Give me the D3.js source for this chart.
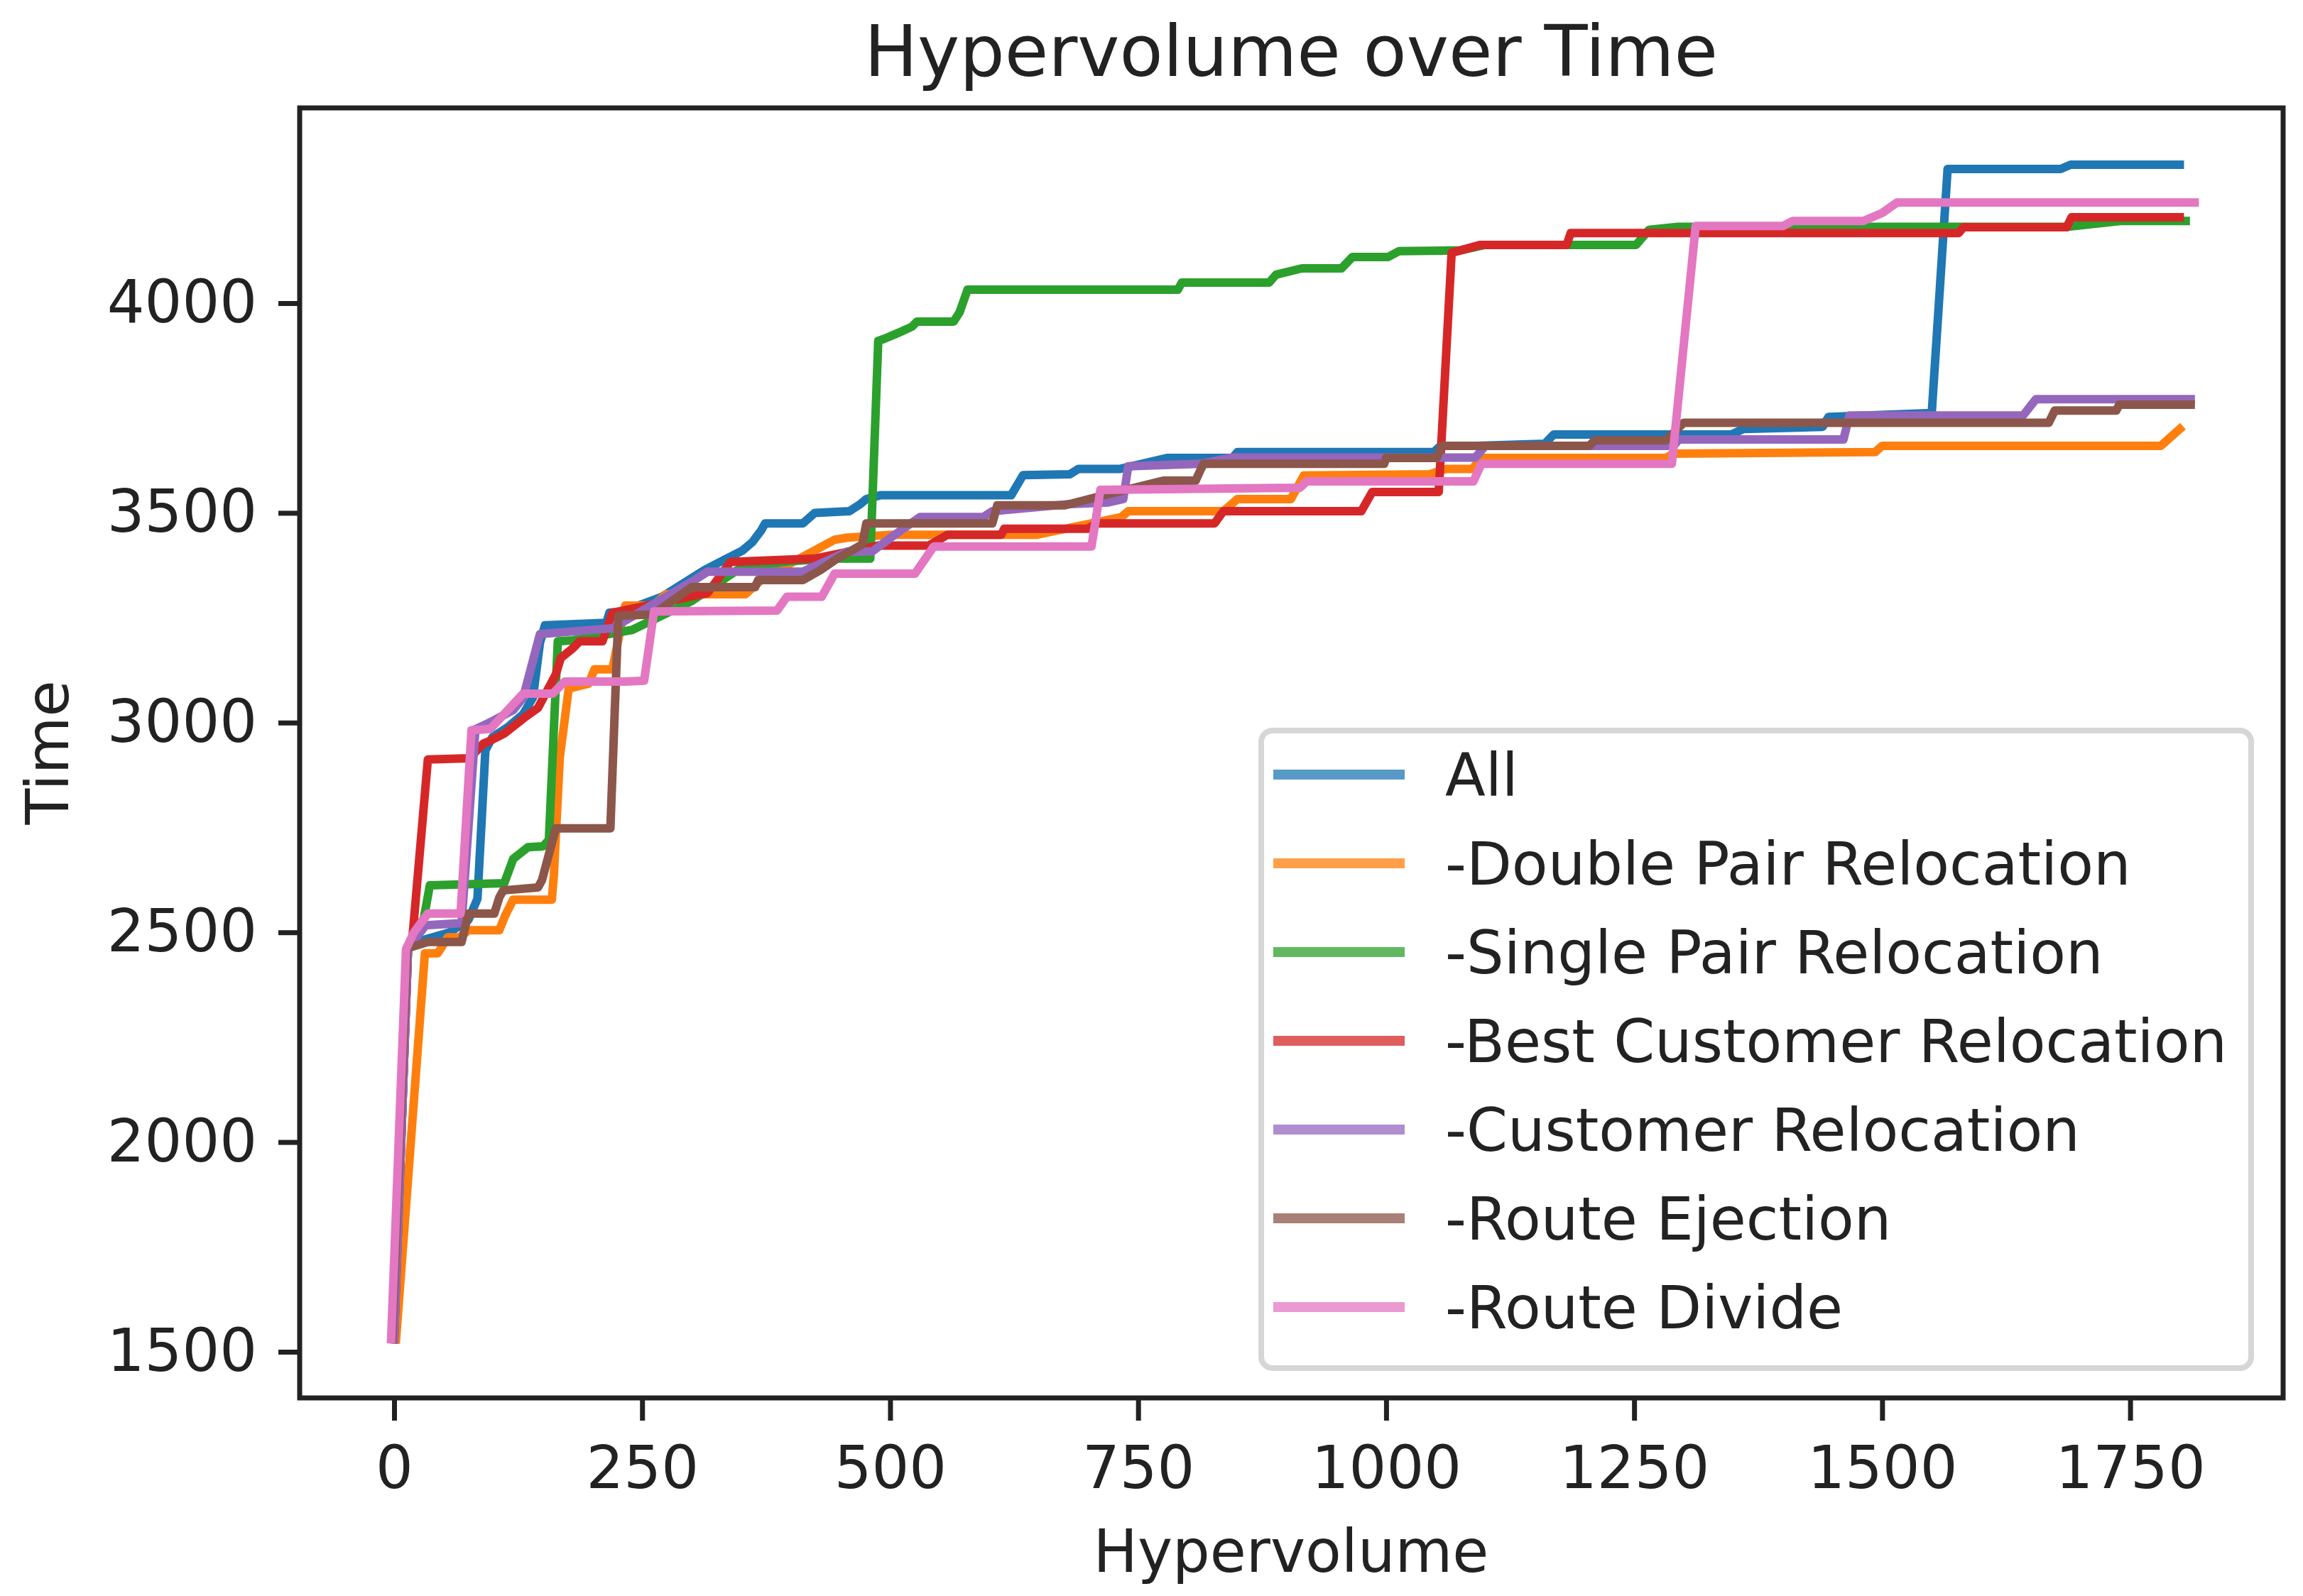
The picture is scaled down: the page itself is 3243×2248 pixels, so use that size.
<!DOCTYPE html>
<html>
<head>
<meta charset="utf-8">
<script src="https://cdn.jsdelivr.net/npm/d3@7"></script>
<style>
  body { margin: 0; background: #fff; }
  text { font-family: "DejaVu Sans", sans-serif; fill: #222; }
</style>
</head>
<body>
<svg></svg>
<script>
// series names, in plot order
const names = ["All", "-Double Pair Relocation", "-Single Pair Relocation", "-Best Customer Relocation",
               "-Customer Relocation", "-Route Ejection", "-Route Divide"];
const colors = ["#1f77b4", "#ff7f0e", "#2ca02c", "#d62728", "#9467bd", "#8c564b", "#e377c2"];

const xTicks = [0, 250, 500, 750, 1000, 1250, 1500, 1750];
const yTicks = [1500, 2000, 2500, 3000, 3500, 4000];

// [hypervolume, time]
const all = [[0,1530],[14,2462],[30,2482],[56,2500],[75,2530],[84,2580],[92,2934],[99,2965],[115,2990],[130,3020],
  [140,3060],[147,3190],[152,3232],[214,3238],[217,3262],[230,3265],[270,3300],[313,3364],[351,3410],[361,3430],
  [370,3458],[374,3475],[412,3475],[424,3500],[459,3504],[470,3521],[476,3533],[490,3542],[622,3542],[634,3590],
  [681,3592],[690,3605],[732,3605],[779,3631],[845,3631],[850,3645],[1048,3645],[1055,3660],[1091,3660],[1160,3665],
  [1169,3687],[1348,3687],[1360,3700],[1440,3705],[1446,3729],[1550,3738],[1566,4320],[1680,4320],[1690,4330],[1800,4330]];

const doublePair = [[2,1530],[31,2450],[44,2450],[54,2488],[66,2488],[75,2505],[106,2505],[112,2540],[120,2578],[159,2578],
  [161,2636],[167,2917],[176,3081],[196,3093],[202,3127],[220,3127],[233,3279],[261,3279],[274,3306],[354,3306],
  [370,3340],[400,3380],[444,3436],[457,3441],[502,3448],[648,3448],[733,3490],[740,3504],[836,3504],[850,3533],
  [904,3533],[917,3589],[1044,3592],[1061,3605],[1087,3605],[1096,3631],[1282,3631],[1289,3641],[1493,3645],
  [1500,3660],[1781,3660],[1800,3700]];

const singlePair = [[0,1530],[14,2462],[20,2490],[30,2534],[36,2612],[111,2617],[120,2675],[135,2703],[150,2705],[156,2720],
  [165,3194],[180,3196],[240,3221],[300,3290],[350,3370],[400,3385],[447,3391],[480,3391],[488,3910],[494,3915],
  [509,3930],[522,3944],[527,3956],[564,3956],[570,3978],[578,4032],[790,4032],[794,4049],[882,4049],[889,4068],
  [915,4083],[955,4083],[966,4110],[1002,4110],[1013,4124],[1075,4126],[1100,4139],[1252,4139],[1265,4175],
  [1294,4182],[1686,4182],[1740,4196],[1806,4196]];

const bestCustomer = [[0,1530],[14,2462],[18,2475],[34,2912],[76,2915],[90,2950],[97,2957],[111,2974],[132,3013],[145,3035],
  [163,3115],[168,3154],[180,3177],[187,3194],[210,3194],[220,3262],[316,3309],[339,3383],[424,3391],[488,3422],
  [539,3422],[558,3448],[612,3448],[615,3462],[699,3462],[708,3475],[827,3475],[836,3504],[975,3504],[986,3550],
  [1053,3550],[1066,4120],[1095,4139],[1182,4139],[1186,4167],[1577,4167],[1582,4181],[1686,4181],[1691,4205],[1800,4205]];

const customer = [[0,1530],[14,2462],[32,2517],[68,2522],[82,2984],[97,3001],[120,3030],[130,3059],[147,3211],[220,3225],
  [303,3340],[316,3360],[412,3360],[457,3408],[482,3408],[500,3440],[530,3490],[594,3490],[603,3504],[681,3521],
  [720,3525],[735,3533],[740,3611],[813,3617],[845,3632],[1090,3632],[1100,3660],[1290,3660],[1295,3675],[1461,3675],
  [1467,3732],[1642,3732],[1655,3771],[1811,3771]];

const routeEjection = [[-2,1530],[13,2462],[34,2477],[68,2477],[75,2545],[101,2545],[106,2583],[110,2600],[145,2607],[149,2624],
  [163,2748],[218,2748],[226,3255],[261,3258],[300,3323],[364,3323],[367,3340],[412,3340],[430,3364],[446,3390],
  [472,3425],[476,3475],[603,3475],[608,3518],[676,3518],[712,3540],[776,3577],[808,3577],[813,3603],[816,3617],
  [998,3617],[1000,3631],[1051,3631],[1056,3660],[1205,3660],[1210,3673],[1282,3673],[1300,3715],[1668,3715],
  [1674,3744],[1736,3744],[1739,3758],[1811,3758]];

const routeDivide = [[-3,1530],[12,2460],[20,2500],[34,2545],[67,2545],[78,2982],[97,2985],[130,3069],[160,3069],[172,3098],
  [233,3098],[252,3100],[262,3265],[386,3267],[396,3300],[431,3300],[444,3355],[525,3355],[544,3420],[703,3420],
  [712,3555],[913,3560],[920,3575],[1088,3575],[1096,3617],[1288,3617],[1312,4184],[1400,4184],[1410,4196],
  [1481,4196],[1500,4215],[1515,4240],[1815,4240]];

const series = [all, doublePair, singlePair, bestCustomer, customer, routeEjection, routeDivide];

const svg = d3.select("svg").attr("width", 3243).attr("height", 2248);

const x = d3.scaleLinear().domain([-95.2, 1904.2]).range([422, 3215]);
const y = d3.scaleLinear().domain([1390, 4465.5]).range([1969, 152]);

const line = d3.line().x(d => x(d[0])).y(d => y(d[1]));

const lines = svg.append("g");
series.forEach((s, i) => {
  lines.append("path").attr("d", line(s)).attr("fill", "none")
    .attr("stroke", colors[i]).attr("stroke-width", 12)
    .attr("stroke-linejoin", "round").attr("stroke-linecap", "square");
});

// axes
const xAxis = svg.append("g").attr("transform", "translate(0,1969)")
  .call(d3.axisBottom(x).tickValues(xTicks).tickFormat(d3.format("d")).tickSize(32).tickPadding(36));
const yAxis = svg.append("g").attr("transform", "translate(422,0)")
  .call(d3.axisLeft(y).tickValues(yTicks).tickFormat(d3.format("d")).tickSize(30).tickPadding(30));

[xAxis, yAxis].forEach(a => {
  a.select(".domain").remove();
  a.selectAll(".tick line").attr("stroke", "#222").attr("stroke-width", 7);
  a.selectAll(".tick text").attr("font-size", 83).attr("font-family", "DejaVu Sans").attr("fill", "#222");
});

// frame
svg.append("rect").attr("x", 422).attr("y", 152).attr("width", 3215 - 422).attr("height", 1969 - 152)
  .attr("fill", "none").attr("stroke", "#222").attr("stroke-width", 7);

// titles
svg.append("text").text("Hypervolume over Time").attr("x", 1818).attr("y", 107)
  .attr("text-anchor", "middle").attr("font-size", 100);
svg.append("text").text("Hypervolume").attr("x", 1818).attr("y", 2214)
  .attr("text-anchor", "middle").attr("font-size", 83);
svg.append("text").text("Time").attr("transform", "translate(96,1060) rotate(-90)")
  .attr("text-anchor", "middle").attr("font-size", 83);

// legend
const legend = svg.append("g");
legend.append("rect").attr("x", 1776).attr("y", 1029).attr("width", 1394).attr("height", 898)
  .attr("rx", 16).attr("fill", "white").attr("fill-opacity", 0.8)
  .attr("stroke", "#d6d6d6").attr("stroke-width", 8);

names.forEach((n, i) => {
  const ly = 1091 + i * 125;
  legend.append("line").attr("x1", 1800).attr("x2", 1971).attr("y1", ly).attr("y2", ly)
    .attr("stroke", colors[i]).attr("stroke-width", 14).attr("stroke-opacity", 0.75)
    .attr("stroke-linecap", "square");
  legend.append("text").text(n).attr("x", 2035).attr("y", ly + 30).attr("font-size", 83);
});
</script>
</body>
</html>
